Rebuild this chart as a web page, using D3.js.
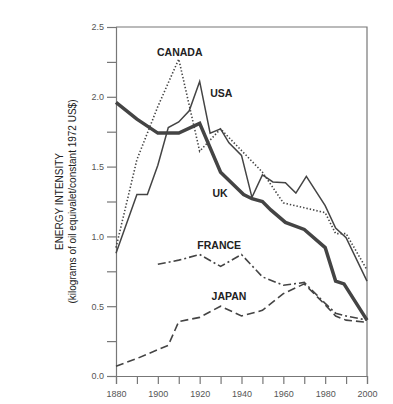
<!DOCTYPE html>
<html>
<head>
<meta charset="utf-8">
<script src="https://cdn.jsdelivr.net/npm/d3@7"></script>
<style>
  body { margin: 0; background: #fff; }
  svg { font-family: "Liberation Sans", Arial, sans-serif; }
</style>
</head>
<body>
<svg width="393" height="404"></svg>
<script>
const width = 393;
const height = 404;
const margin = {top: 27, right: 26, bottom: 28, left: 116};

// series: [year, energy intensity]
const uk = [[1880, 1.96], [1890, 1.84], [1900, 1.74], [1910, 1.74], [1920, 1.81], [1930, 1.46],
    [1941, 1.30], [1945, 1.27], [1950, 1.25], [1954, 1.19], [1961, 1.10], [1970, 1.05],
    [1980, 0.92], [1985, 0.68], [1989, 0.66], [2000, 0.40]];
const usa = [[1880, 0.88], [1890, 1.30], [1895, 1.30], [1900, 1.51], [1905, 1.78], [1910, 1.82],
    [1915, 1.90], [1920, 2.11], [1925, 1.74], [1930, 1.77], [1934, 1.67], [1940, 1.58],
    [1945, 1.28], [1950, 1.44], [1955, 1.39], [1961, 1.385], [1966, 1.31], [1971, 1.43],
    [1980, 1.22], [1985, 1.06], [1990, 0.99], [2000, 0.68]];
const canada = [[1880, 0.92], [1890, 1.55], [1900, 1.93], [1910, 2.27], [1920, 1.61], [1930, 1.77],
    [1950, 1.46], [1960, 1.24], [1980, 1.17], [1985, 1.02], [1990, 1.02], [2000, 0.76]];
const france = [[1900, 0.80], [1910, 0.83], [1920, 0.87], [1930, 0.785], [1940, 0.87], [1950, 0.71],
    [1960, 0.65], [1970, 0.67], [1980, 0.52], [1985, 0.45], [1990, 0.43], [2000, 0.40]];
const japan = [[1880, 0.07], [1890, 0.125], [1905, 0.22], [1910, 0.39], [1920, 0.42], [1930, 0.50],
    [1940, 0.43], [1950, 0.47], [1960, 0.59], [1970, 0.66], [1980, 0.51], [1985, 0.43],
    [1990, 0.40], [2000, 0.385]];

const xTicks = d3.range(1880, 2001, 10);
const xLabels = d3.range(1880, 2001, 20);
const yTicks = d3.range(0, 2.51, 0.25);
const yLabels = [0, 0.5, 1.0, 1.5, 2.0, 2.5];

const labels = [
    {text: 'CANADA', year: 1899.6, value: 2.29},
    {text: 'USA', year: 1925, value: 2.0},
    {text: 'UK', year: 1926.1, value: 1.285},
    {text: 'FRANCE', year: 1918.9, value: 0.913},
    {text: 'JAPAN', year: 1925.7, value: 0.544}
];

const innerW = width - margin.left - margin.right;
const innerH = height - margin.top - margin.bottom;

const x = d3.scaleLinear().domain([1880, 2000]).range([0, innerW]);
const y = d3.scaleLinear().domain([0, 2.5]).range([innerH, 0]);

const svg = d3.select('svg')
    .append('g')
    .attr('transform', `translate(${margin.left}, ${margin.top})`);

// frame
svg.append('path')
    .attr('d', `M0,0H${innerW}V${innerH}`)
    .attr('fill', 'none')
    .attr('stroke', '#777')
    .attr('stroke-width', 1.2);

const xAxis = svg.append('g')
    .attr('transform', `translate(0, ${innerH})`)
    .call(d3.axisBottom(x).tickValues(xTicks).tickSize(8)
        .tickFormat(d => xLabels.includes(d) ? d : ''));

const yAxis = svg.append('g')
    .call(d3.axisLeft(y).tickValues(yTicks).tickSize(9)
        .tickFormat(d => yLabels.some(v => Math.abs(v - d) < 1e-6) ? d3.format('.1f')(d) : ''));

[xAxis, yAxis].forEach(a => {
    a.select('.domain').attr('stroke', '#777').attr('stroke-width', 1.2);
    a.selectAll('.tick line').attr('stroke', '#777').attr('stroke-width', 1.2);
    a.selectAll('.tick text').attr('fill', '#555').attr('font-size', 9)
        .attr('font-family', '"Liberation Sans", Arial, sans-serif');
});
xAxis.selectAll('.tick text').attr('dy', '1.15em');
yAxis.selectAll('.tick text').attr('x', -12);

const line = d3.line()
    .x(d => x(d[0]))
    .y(d => y(d[1]));

const series = [
    {data: japan, width: 1.6, dash: '8,4'},
    {data: france, width: 1.6, dash: '8,3,2,3'},
    {data: canada, width: 1.6, dash: '1.4,2'},
    {data: usa, width: 1.5, dash: null},
    {data: uk, width: 3.5, dash: null}
];

series.forEach(s => {
    svg.append('path')
        .datum(s.data)
        .attr('d', line)
        .attr('fill', 'none')
        .attr('stroke', '#444')
        .attr('stroke-width', s.width)
        .attr('stroke-linejoin', 'miter')
        .attr('stroke-dasharray', s.dash);
});

svg.selectAll('.lbl')
    .data(labels)
    .join('text')
    .attr('class', 'lbl')
    .attr('x', d => x(d.year))
    .attr('y', d => y(d.value))
    .attr('font-size', 10.5)
    .attr('font-weight', 'bold')
    .attr('fill', '#222')
    .text(d => d.text);

// y axis title
const title = d3.select('svg').append('g')
    .attr('transform', `translate(0, ${margin.top + innerH / 2}) rotate(-90)`)
    .attr('text-anchor', 'middle')
    .attr('fill', '#222')
    .attr('font-size', 10);
title.append('text').attr('x', 0).attr('y', 63).text('ENERGY INTENSITY');
title.append('text').attr('x', 0).attr('y', 76).text('(kilograms of oil equivalet/constant 1972 US$)');
</script>
</body>
</html>
